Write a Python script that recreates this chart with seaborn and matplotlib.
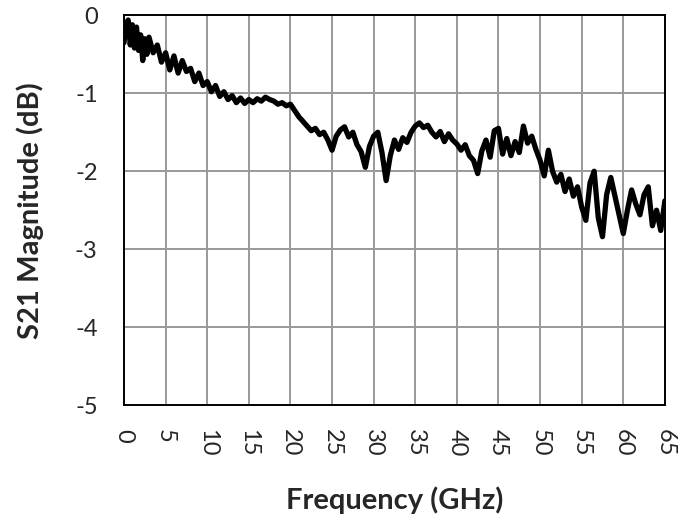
import numpy as np
import pandas as pd
import matplotlib
matplotlib.use("Agg")
import matplotlib.pyplot as plt
import seaborn as sns

# S21 trace (GHz, dB)
freq = [0.0, 0.25, 0.5, 0.75, 1.0, 1.25, 1.5, 1.75, 2.0, 2.25, 2.5, 2.75, 3.0, 3.5, 4.0, 4.5,
        5.0, 5.5, 6.0, 6.5, 7.0, 7.5, 8.0, 8.5, 9.0, 9.5, 10.0, 10.5, 11.0, 11.5,
        12.0, 12.5, 13.0, 13.5, 14.0, 14.5, 15.0, 15.5, 16.0, 16.5, 17.0, 17.5,
        18.0, 18.5, 19.0, 19.5, 20.0, 20.5, 21.0, 21.5, 22.0, 22.5, 23.0, 23.5,
        24.0, 24.5, 25.0, 25.5, 26.0, 26.5, 27.0, 27.5, 28.0, 28.5, 29.0, 29.5,
        30.0, 30.5, 31.0, 31.5, 32.0, 32.5, 33.0, 33.5, 34.0, 34.5, 35.0, 35.5,
        36.0, 36.5, 37.0, 37.5, 38.0, 38.5, 39.0, 39.5, 40.0, 40.5, 41.0, 41.5,
        42.0, 42.5, 43.0, 43.5, 44.0, 44.5, 45.0, 45.5, 46.0, 46.5, 47.0, 47.5,
        48.0, 48.5, 49.0, 49.5, 50.0, 50.5, 51.0, 51.5, 52.0, 52.5, 53.0, 53.5,
        54.0, 54.5, 55.0, 55.5, 56.0, 56.5, 57.0, 57.5, 58.0, 58.5, 59.0, 59.5,
        60.0, 60.5, 61.0, 61.5, 62.0, 62.5, 63.0, 63.5, 64.0, 64.5, 65.0]
s21 = [-0.35, -0.1, -0.06, -0.38, -0.12, -0.42, -0.15, -0.45, -0.25, -0.58, -0.3, -0.5, -0.28, -0.48, -0.38, -0.6,
       -0.48, -0.7, -0.52, -0.74, -0.58, -0.72, -0.68, -0.85, -0.74, -0.9, -0.85, -0.98, -0.9, -1.04,
       -0.98, -1.08, -1.03, -1.12, -1.06, -1.13, -1.08, -1.12, -1.07, -1.1, -1.05, -1.08,
       -1.1, -1.14, -1.12, -1.16, -1.14, -1.22, -1.3, -1.36, -1.42, -1.48, -1.45, -1.53,
       -1.5, -1.6, -1.73, -1.55, -1.47, -1.43, -1.56, -1.5, -1.66, -1.75, -1.95, -1.68,
       -1.55, -1.5, -1.76, -2.12, -1.8, -1.6, -1.72, -1.57, -1.63, -1.5, -1.42, -1.38,
       -1.44, -1.41, -1.5, -1.56, -1.49, -1.62, -1.52, -1.6, -1.65, -1.73, -1.66, -1.8,
       -1.86, -2.03, -1.74, -1.6, -1.82, -1.48, -1.45, -1.78, -1.58, -1.8, -1.62, -1.76,
       -1.42, -1.64, -1.55, -1.72, -1.86, -2.06, -1.73, -2.0, -2.14, -2.04, -2.26, -2.1,
       -2.32, -2.2, -2.46, -2.63, -2.15, -2.0, -2.6, -2.84, -2.3, -2.08, -2.32, -2.56,
       -2.8, -2.5, -2.24, -2.42, -2.56, -2.3, -2.2, -2.7, -2.5, -2.76, -2.38]

xticks = list(range(0, 66, 5))
yticks = [0, -1, -2, -3, -4, -5]

df = pd.DataFrame({"Frequency": freq, "S21": s21})

sns.set_style("white")
plt.rcParams["font.family"] = ["Lato", "DejaVu Sans"]

fig = plt.figure(figsize=(6.89, 5.23), dpi=100)
ax = fig.add_axes([0.18, 0.2256, 0.785, 0.745])

sns.lineplot(data=df, x="Frequency", y="S21", color="black", linewidth=3.8, ax=ax)

ax.set_xlim(0, 65)
ax.set_ylim(-5, 0)
ax.set_xticks(xticks)
ax.set_yticks(yticks)
ax.set_xticklabels([str(t) for t in xticks], rotation=270, fontsize=17)
ax.set_yticklabels([str(t) for t in yticks], fontsize=17)
ax.grid(True, color="#999999", linewidth=1.4)
ax.set_axisbelow(True)
for s in ax.spines.values():
    s.set_color("black")
    s.set_linewidth(1.4)
ax.tick_params(axis="both", direction="out", length=7, width=1.2, color="black")
ax.tick_params(axis="x", pad=10)
ax.tick_params(axis="y", pad=12)

ax.set_xlabel("Frequency (GHz)", fontsize=21, fontweight="bold", labelpad=22)
ax.set_ylabel("S21 Magnitude (dB)", fontsize=21, fontweight="bold", labelpad=22)

fig.savefig("out.png", dpi=100)
